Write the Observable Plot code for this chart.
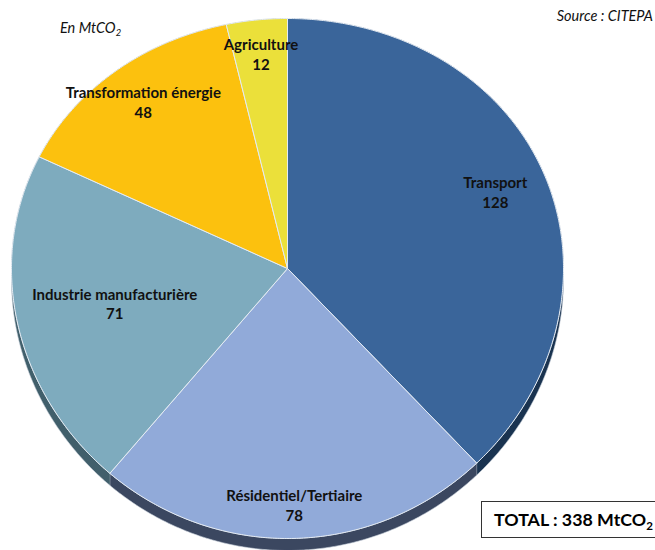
<!DOCTYPE html>
<html><head><meta charset="utf-8">
<script src="https://cdn.jsdelivr.net/npm/d3@7"></script>
<script src="https://cdn.jsdelivr.net/npm/@observablehq/plot@0.6"></script>
<style>
body{margin:0;background:#fff;}
#wrap{position:relative;width:655px;height:550px;overflow:hidden;font-family:Lato,"Open Sans",sans-serif;}
#wrap svg{position:absolute;left:0;top:0;}
.note{position:absolute;font-style:italic;color:#111;white-space:nowrap;}
.total{position:absolute;left:481px;top:501px;width:200px;height:37px;border:1px solid #333;box-sizing:border-box;font-weight:bold;font-size:17.8px;line-height:35px;padding-left:12px;color:#000;white-space:nowrap;background:#fff;}
sub{font-size:0.65em;vertical-align:-0.35em;line-height:0;}
</style></head>
<body><div id="wrap"></div>
<script>
const categories = ["Transport", "Résidentiel/Tertiaire", "Industrie manufacturière", "Transformation énergie", "Agriculture"];
const values = [128, 78, 71, 48, 12];
const topColors = ["#3a659a", "#91aad9", "#7eabbe", "#fcc10e", "#ebe03a"];
const sideColors = ["#1a3350", "#3b4760", "#415f6b", "#8a6a08", "#827b20"];

// geometry of the tilted disk (unit circle, y down)
const tilt = 10 / 260;       // perspective bulge
const depth = 12 / 260;      // thickness of the disk
const proj = (a, r = 1) => {
  const u = r * Math.sin(a), v = -r * Math.cos(a);
  return {x: u, y: v + tilt * v * v};
};
const labelR = {"Industrie manufacturière": 0.64, "Résidentiel/Tertiaire": 0.88, "Transformation énergie": 0.84, "Agriculture": 0.86};

const arcs = d3.pie().sort(null).value((d) => d.value)(
  categories.map((c, i) => ({cat: c, value: values[i], i}))
);

function arcPts(a0, a1) {
  const n = Math.max(2, Math.ceil((a1 - a0) / (Math.PI / 360)));
  return d3.range(n + 1).map((k) => proj(a0 + (a1 - a0) * k / n));
}

const sideMarks = arcs.map((s) => {
  const top = arcPts(s.startAngle, s.endAngle);
  const pts = top.concat(top.slice().reverse().map((p) => ({x: p.x, y: p.y + depth})));
  return Plot.line(pts, {x: "x", y: "y", fill: sideColors[s.data.i], stroke: "#c9d2dc", strokeWidth: 0.6, strokeLinejoin: "round"});
});
const topMarks = arcs.map((s) => {
  const pts = [{x: 0, y: 0}].concat(arcPts(s.startAngle, s.endAngle), [{x: 0, y: 0}]);
  return Plot.line(pts, {x: "x", y: "y", fill: topColors[s.data.i], stroke: "#e4ebf3", strokeWidth: 1, strokeLinejoin: "round"});
});
const labels = arcs.map((s) => {
  const m = (s.startAngle + s.endAngle) / 2;
  const p = proj(m, labelR[s.data.cat] ?? 0.81);
  return {x: p.x, y: p.y, text: s.data.cat + "\n" + s.data.value};
});

const chart = Plot.plot({
  width: 655, height: 550, margin: 0,
  x: {domain: [-1, 1], range: [11, 563], axis: null},
  y: {domain: [-1, 1], range: [8, 528], axis: null},
  style: {background: "transparent"},
  marks: [
    ...sideMarks,
    ...topMarks,
    Plot.text(labels, {x: "x", y: "y", text: "text", fontWeight: "bold", fontSize: 15, fill: "#111",
      fontFamily: "Lato, 'Open Sans', sans-serif", lineHeight: 1.3, lineAnchor: "middle", textAnchor: "middle"})
  ]
});
const wrap = document.getElementById("wrap");
wrap.appendChild(chart);

const en = document.createElement("div");
en.className = "note"; en.style.left = "60px"; en.style.top = "19px"; en.style.fontSize = "14.5px";
en.innerHTML = "En MtCO<sub>2</sub>";
wrap.appendChild(en);
const src = document.createElement("div");
src.className = "note"; src.style.right = "2px"; src.style.top = "7px"; src.style.fontSize = "14.5px";
src.textContent = "Source : CITEPA";
wrap.appendChild(src);
const tot = document.createElement("div");
tot.className = "total";
tot.innerHTML = "TOTAL : 338 MtCO<sub>2</sub>";
wrap.appendChild(tot);
</script></body></html>
